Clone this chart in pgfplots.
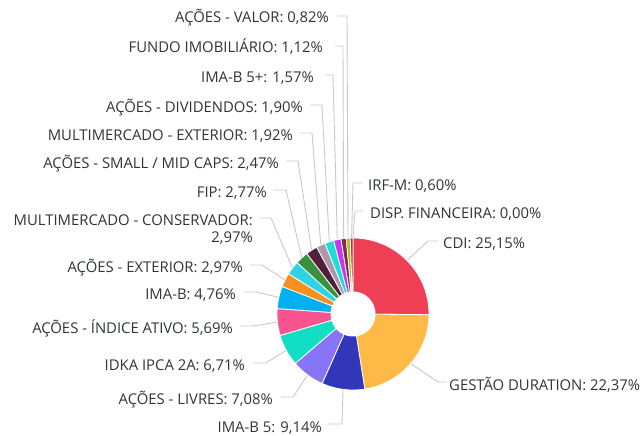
\documentclass[border=0pt]{standalone}
\usepackage{pgfplots}
\pgfplotsset{compat=1.18}
\usepackage{fontspec}
\setmainfont{Open Sans}
\definecolor{txt}{HTML}{303436}
\definecolor{ln}{HTML}{C8C8C8}
\definecolor{cCDI}{HTML}{EF3F55}
\definecolor{cGES}{HTML}{FFB946}
\definecolor{cIMAB5}{HTML}{3236B8}
\definecolor{cLIV}{HTML}{8774F6}
\definecolor{cIDKA}{HTML}{10DFC5}
\definecolor{cIND}{HTML}{FA5490}
\definecolor{cIMAB}{HTML}{02B0F1}
\definecolor{cEXT}{HTML}{F7901E}
\definecolor{cMMC}{HTML}{2CD4E4}
\definecolor{cFIP}{HTML}{3A913D}
\definecolor{cSMA}{HTML}{53203B}
\definecolor{cMME}{HTML}{AF97AB}
\definecolor{cDIV}{HTML}{1BDDDC}
\definecolor{cIMAB5p}{HTML}{C537F2}
\definecolor{cFUN}{HTML}{862A4A}
\definecolor{cVAL}{HTML}{BCB62E}
\definecolor{cIRF}{HTML}{A14230}
\def\cum{0}
\newcommand{\slice}[2]{%
  \pgfmathsetmacro{\sa}{\cum}%
  \pgfmathsetmacro{\sb}{\cum+#1}%
  \xdef\cum{\sb}%
  \edef\temp{\noexpand\addplot[fill=#2, draw=white, line width=0.8pt, domain=\sa:\sb, samples=40, variable=\noexpand\t] ({353+76*sin(3.6*\noexpand\t)},{314-76*cos(3.6*\noexpand\t)}) -- (axis cs:353,314) -- cycle;}%
  \temp}
\tikzset{lab/.style={font=\fontsize{14.85}{17}\selectfont, text=txt, inner sep=0pt},
  lead/.style={draw=ln, line width=0.9pt}}
\begin{document}
\begin{tikzpicture}
\begin{axis}[hide axis, scale only axis, width=643pt, height=436pt,
  xmin=0, xmax=643, ymin=0, ymax=436, y dir=reverse, clip=false]
\path (axis cs:0,0) rectangle (axis cs:643,436);
% leader lines
\draw[lead] (axis cs:337,16) -- (axis cs:347,16) -- (axis cs:348,238);
\draw[lead] (axis cs:335,46) -- (axis cs:343,46) -- (axis cs:343.6,238.6);
\draw[lead] (axis cs:325,75) -- (axis cs:333,75) -- (axis cs:337.3,239.6);
\draw[lead] (axis cs:310,105) -- (axis cs:322,105) -- (axis cs:329.3,241.8);
\draw[lead] (axis cs:300,133) -- (axis cs:312,133) -- (axis cs:320.8,245.2);
\draw[lead] (axis cs:286,161) -- (axis cs:298,161) -- (axis cs:311.6,250.3);
\draw[lead] (axis cs:274,190) -- (axis cs:286,190) -- (axis cs:301.8,257.9);
\draw[lead] (axis cs:260,218) -- (axis cs:271,218) -- (axis cs:292.5,268);
\draw[lead] (axis cs:250,265) -- (axis cs:262,265) -- (axis cs:285.1,280);
\draw[lead] (axis cs:243,292) -- (axis cs:256,292) -- (axis cs:278.9,297.3);
\draw[lead] (axis cs:240,326) -- (axis cs:253,326) -- (axis cs:277.4,322.1);
\draw[lead] (axis cs:253,363) -- (axis cs:266,363) -- (axis cs:286.2,350.3);
\draw[lead] (axis cs:281,397) -- (axis cs:293,397) -- (axis cs:307.6,374.9);
\draw[lead] (axis cs:328,424) -- (axis cs:342,424) -- (axis cs:343.1,389.3);
\draw[lead] (axis cs:363,183) -- (axis cs:353,183) -- (axis cs:351.6,238);
\draw[lead] (axis cs:363,211) -- (axis cs:355,211) -- (axis cs:353,238);
\draw[lead] (axis cs:438,241) -- (axis cs:428,241) -- (axis cs:407,260.5);
\draw[lead] (axis cs:446,382) -- (axis cs:438,382) -- (axis cs:410.5,363.6);
% slices (percent values)
\slice{25.15}{cCDI}
\slice{22.37}{cGES}
\slice{9.14}{cIMAB5}
\slice{7.08}{cLIV}
\slice{6.71}{cIDKA}
\slice{5.69}{cIND}
\slice{4.76}{cIMAB}
\slice{2.97}{cEXT}
\slice{2.97}{cMMC}
\slice{2.77}{cFIP}
\slice{2.47}{cSMA}
\slice{1.92}{cMME}
\slice{1.90}{cDIV}
\slice{1.57}{cIMAB5p}
\slice{1.12}{cFUN}
\slice{0.82}{cVAL}
\slice{0.60}{cIRF}
% DISP. FINANCEIRA 0.00
\addplot[fill=white, draw=none, domain=0:100, samples=80, variable=\t]
  ({353+22.5*sin(3.6*\t)},{314-22.5*cos(3.6*\t)}) -- cycle;
% labels
\node[lab, anchor=base east] at (axis cs:329,23) {AÇÕES - VALOR: 0,82\%};
\node[lab, anchor=base east] at (axis cs:323,53) {FUNDO IMOBILIÁRIO: 1,12\%};
\node[lab, anchor=base east] at (axis cs:314,82) {IMA-B 5+: 1,57\%};
\node[lab, anchor=base east] at (axis cs:303,112) {AÇÕES - DIVIDENDOS: 1,90\%};
\node[lab, anchor=base east] at (axis cs:293,140) {MULTIMERCADO - EXTERIOR: 1,92\%};
\node[lab, anchor=base east] at (axis cs:279,168) {AÇÕES - SMALL / MID CAPS: 2,47\%};
\node[lab, anchor=base east] at (axis cs:267,197) {FIP: 2,77\%};
\node[lab, anchor=base east] at (axis cs:253,225) {MULTIMERCADO - CONSERVADOR:};
\node[lab, anchor=base east] at (axis cs:253,242) {2,97\%};
\node[lab, anchor=base east] at (axis cs:243,272) {AÇÕES - EXTERIOR: 2,97\%};
\node[lab, anchor=base east] at (axis cs:236,299) {IMA-B: 4,76\%};
\node[lab, anchor=base east] at (axis cs:233,333) {AÇÕES - ÍNDICE ATIVO: 5,69\%};
\node[lab, anchor=base east] at (axis cs:245,370) {IDKA IPCA 2A: 6,71\%};
\node[lab, anchor=base east] at (axis cs:273,404) {AÇÕES - LIVRES: 7,08\%};
\node[lab, anchor=base east] at (axis cs:322,432) {IMA-B 5: 9,14\%};
\node[lab, anchor=base west] at (axis cs:368,190) {IRF-M: 0,60\%};
\node[lab, anchor=base west] at (axis cs:370,218) {DISP. FINANCEIRA: 0,00\%};
\node[lab, anchor=base west] at (axis cs:443,248) {CDI: 25,15\%};
\node[lab, anchor=base west] at (axis cs:449,390) {GESTÃO DURATION: 22,37\%};
\end{axis}
\end{tikzpicture}
\end{document}
